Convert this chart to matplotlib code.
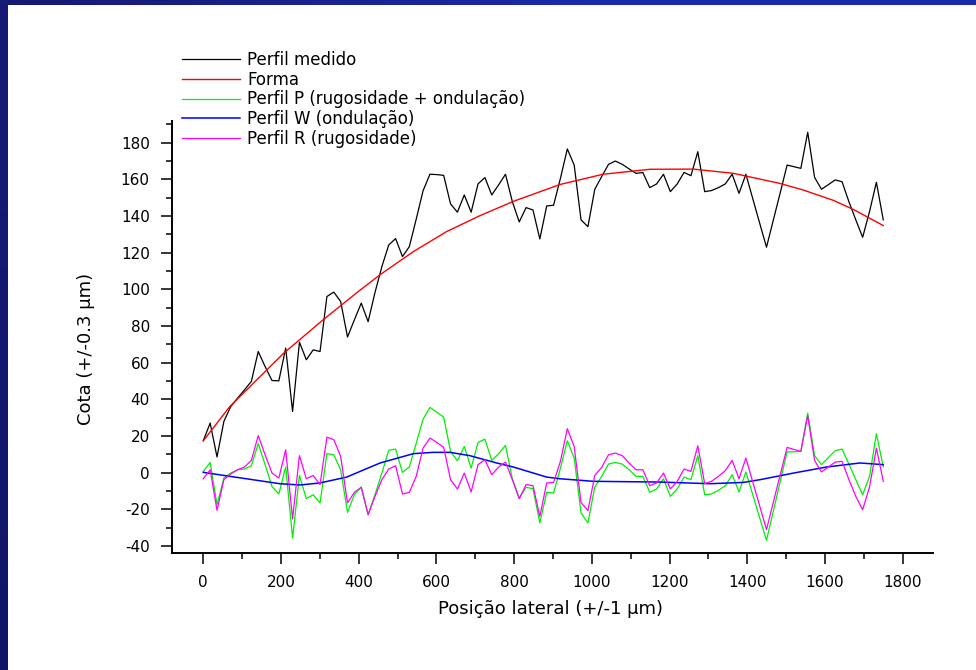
import matplotlib
matplotlib.use('Agg')
import matplotlib.pyplot as plt
from matplotlib.ticker import MultipleLocator
import numpy as np

plt.rcParams['font.family'] = ['DejaVu Sans']
plt.rcParams['axes.unicode_minus'] = False

# Perfil medido (black), 100 points from 0 to 1750
medido = [17.4, 27.1, 8.6, 28.0, 36.1, 40.7, 45.2, 49.8, 66.1, 57.9,
          50.3, 50.1, 68.0, 33.4, 71.2, 61.6, 67.0, 66.1, 96.1, 98.5,
          93.4, 74.0, 83.4, 92.5, 82.4, 98.3, 112.4, 124.2, 127.7, 117.9,
          123.3, 138.3, 153.8, 162.8, 162.6, 162.2, 146.6, 142.1, 151.5, 142.1,
          157.5, 161.0, 151.5, 157.0, 162.8, 147.8, 136.8, 144.6, 143.3, 127.5,
          145.5, 145.9, 160.6, 176.6, 167.8, 137.9, 134.2, 154.6, 161.5, 168.2,
          170.0, 168.2, 165.7, 163.3, 163.7, 155.5, 157.5, 162.8, 153.3, 157.5,
          163.8, 162.0, 175.1, 153.3, 153.9, 155.5, 157.5, 162.8, 152.4, 162.8,
          149.5, 136.2, 123.0, 137.9, 152.7, 167.8, 166.9, 166.0, 185.7, 161.1,
          154.6, 157.1, 159.7, 158.7, 147.8, 137.9, 128.4, 142.4, 158.4, 137.9]

# Perfil P (green)
perfil_p = [0.7, 5.6, -17.4, -2.9, -0.2, 1.6, 2.0, 3.8, 15.8, 4.4,
            -7.5, -11.6, 3.1, -35.6, -1.5, -14.2, -12.0, -16.5, 10.4, 9.8,
            1.6, -21.6, -12.0, -7.8, -22.9, -12.0, -0.2, 12.2, 12.9, 0.2,
            3.1, 16.0, 29.2, 35.6, 33.0, 30.3, 11.6, 6.5, 14.3, 2.5,
            16.5, 18.3, 6.7, 10.4, 14.9, -3.4, -13.8, -8.0, -8.7, -27.4,
            -10.7, -11.1, 2.5, 17.4, 8.0, -22.0, -27.4, -7.8, -2.0, 4.7,
            5.6, 4.7, 1.6, -2.0, -2.0, -10.7, -8.9, -3.3, -12.9, -8.9,
            -2.4, -3.8, 9.3, -12.0, -11.6, -9.6, -7.1, -1.1, -10.5, 0.4,
            -12.0, -24.5, -36.9, -20.9, -4.7, 11.3, 11.4, 11.6, 32.5, 9.3,
            4.4, 8.2, 12.0, 12.9, 4.7, -3.8, -12.0, -2.0, 21.3, 3.1]

# Perfil R (magenta)
perfil_r = [-3.3, 1.6, -20.5, -3.8, -0.7, 1.6, 3.1, 6.7, 20.2, 9.8,
            -0.2, -2.9, 12.5, -25.2, 9.3, -3.3, -1.5, -6.5, 19.4, 18.0,
            8.9, -16.5, -10.7, -8.0, -22.9, -12.9, -3.8, 2.0, 3.8, -11.6,
            -10.7, -2.0, 13.4, 18.9, 16.5, 13.8, -3.8, -8.9, -0.2, -10.5,
            4.4, 7.1, -1.1, 3.1, 5.8, -3.8, -14.2, -6.5, -7.1, -23.8,
            -5.6, -5.3, 6.2, 24.0, 14.3, -16.2, -20.7, -1.5, 2.9, 9.8,
            10.7, 9.3, 5.3, 1.6, 1.6, -7.1, -5.6, -0.2, -8.9, -4.7,
            2.0, 0.7, 14.7, -6.0, -4.7, -2.0, 1.1, 6.7, -3.3, 8.0,
            -5.1, -18.0, -31.1, -16.0, -1.1, 13.8, 12.7, 11.6, 31.1, 6.7,
            0.4, 3.1, 5.8, 6.2, -3.8, -12.9, -20.2, -7.8, 13.4, -4.7]

# Forma (red), smooth curve
forma_x = [0, 68, 206, 309, 400, 455, 540, 626, 710, 798, 918, 1029, 1150,
           1261, 1364, 1484, 1544, 1621, 1673, 1750]
forma_y = [17.4, 36.0, 65.0, 83.5, 99.0, 108.0, 120.5, 131.5, 140.0, 148.0,
           157.2, 162.8, 165.5, 165.6, 163.3, 157.8, 154.2, 148.6, 143.6, 134.8]

# Perfil W (blue), smooth curve
onda_x = [0, 69, 197, 249, 300, 369, 455, 541, 592, 635, 686, 755, 798, 884,
          918, 1004, 1175, 1304, 1390, 1433, 1519, 1604, 1690, 1750]
onda_y = [0.2, -2.0, -6.0, -6.7, -5.6, -2.4, 5.3, 10.4, 11.1, 11.1, 9.3, 5.3,
          3.1, -2.4, -3.3, -4.7, -5.1, -6.0, -5.3, -3.8, -0.2, 3.1, 5.3, 4.4]

x = np.linspace(0, 1750, len(medido))

fig = plt.figure(figsize=(9.76, 6.7), dpi=100)

# dark blue frame on the left and top edges
bg = fig.add_axes([0, 0, 1, 1], zorder=-10)
bg.set_xlim(0, 976)
bg.set_ylim(670, 0)
bg.axis('off')
grad_x = np.linspace(0, 1, 200)
top = np.zeros((1, 200, 3))
for k, (c0, c1) in enumerate(zip((0x16, 0x19, 0x70), (0x1c, 0x2a, 0xaa))):
    top[0, :, k] = np.interp(grad_x, [0, 0.6, 1], [c0, c1, c1]) / 255
bg.imshow(top, extent=(0, 976, 5, 0), aspect='auto')
left = np.zeros((200, 1, 3))
for k, (c0, c1) in enumerate(zip((0x16, 0x1b, 0x76), (0x10, 0x16, 0x66))):
    left[:, 0, k] = np.linspace(c0, c1, 200) / 255
bg.imshow(left, extent=(0, 8, 670, 0), aspect='auto')

ax = fig.add_axes([172 / 976, 1 - 553 / 670, 761 / 976, 432.3 / 670])
ax.plot(x, medido, color='black', lw=0.9, label='Perfil medido')
ax.plot(forma_x, forma_y, color='#ff0000', lw=1.0, label='Forma')
ax.plot(x, perfil_p, color='#00f000', lw=0.9,
        label='Perfil P (rugosidade + ondulação)')
ax.plot(onda_x, onda_y, color='#0000ff', lw=1.1, label='Perfil W (ondulação)')
ax.plot(x, perfil_r, color='#ff00ff', lw=0.9, label='Perfil R (rugosidade)')

ax.set_xlim(-80.5, 1878)
ax.set_ylim(-43.8, 192)
ax.xaxis.set_major_locator(MultipleLocator(200))
ax.xaxis.set_minor_locator(MultipleLocator(100))
ax.yaxis.set_major_locator(MultipleLocator(20))
ax.yaxis.set_minor_locator(MultipleLocator(10))
for s in ('top', 'right'):
    ax.spines[s].set_visible(False)
for s in ('left', 'bottom'):
    ax.spines[s].set_linewidth(1.4)
ax.tick_params(which='major', direction='out', length=8, width=1.1,
               labelsize=11, pad=8)
ax.tick_params(which='minor', direction='out', length=4, width=1.1)

fig.text(551 / 976, 1 - 609 / 670, 'Posição lateral (+/-1 µm)',
         fontsize=13, ha='center', va='center')
fig.text(86 / 976, 1 - 349 / 670, 'Cota (+/-0.3 µm)', fontsize=13,
         rotation=90, ha='center', va='center')

ax.legend(loc='upper left', bbox_to_anchor=(182 / 976, 1 - 51 / 670),
          bbox_transform=fig.transFigure, frameon=False, fontsize=12,
          handlelength=3.5, handletextpad=0.4, labelspacing=0.1,
          borderpad=0, borderaxespad=0)

fig.savefig('out.png', dpi=100)
